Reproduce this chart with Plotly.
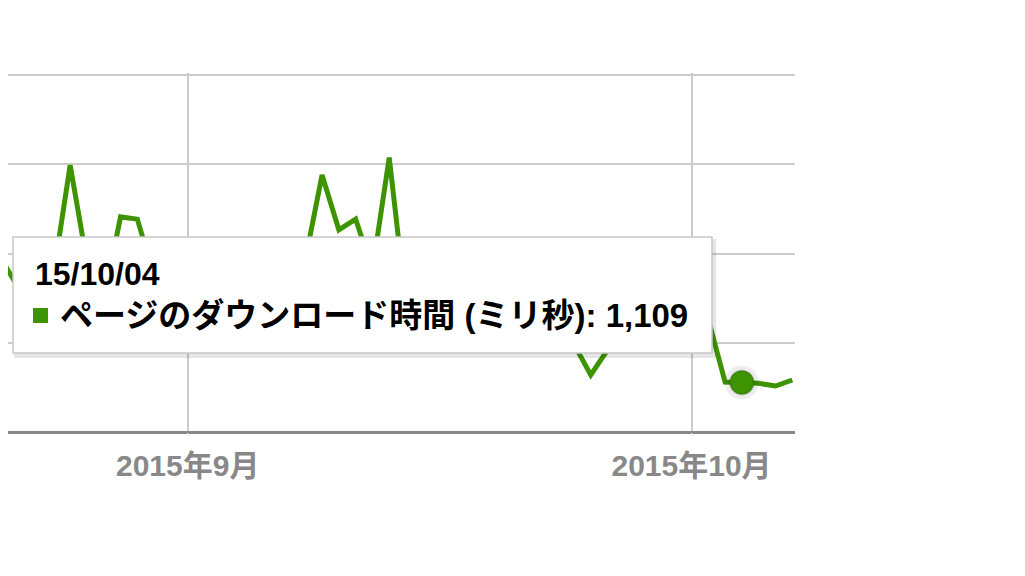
import plotly.graph_objects as go
import pandas as pd

start_date = "2015-08-20"
end_date = "2015-10-07"
dates = [d.strftime("%Y-%m-%d") for d in pd.date_range(start_date, end_date, freq="D")]

# ページのダウンロード時間 (ミリ秒), daily
download_ms = [
    3180, 3810, 3180, 2960, 3500, 5980, 3810, 2960, 4820, 4770, 3500, 2960,  # Aug 20 - Aug 31
    3180, 2730, 3070, 2960, 2510, 2850, 3180, 3850, 5760, 4530, 4770, 3630,  # Sep 1 - Sep 12
    6150, 2850, 3180, 2960, 2620, 3070, 2730, 2510, 2960, 2850, 2400, 1970,  # Sep 13 - Sep 24
    1280, 1840, 2510, 2730, 2960, 2620,                                      # Sep 25 - Sep 30
    2730, 2530, 1120, 1109, 1090, 1030, 1165,                                # Oct 1 - Oct 7
]

tick_vals = ["2015-09-01", "2015-10-01"]
tick_text = ["2015年9月", "2015年10月"]

hover_date = "2015-10-04"
hover_value = 1109
hover_label = "15/10/04"
series_name = "ページのダウンロード時間 (ミリ秒)"

y_ticks = [0, 2000, 4000, 6000, 8000]

GREEN = "#3d9400"
FONT = "Arial, 'Liberation Sans', 'Noto Sans CJK JP', sans-serif"

# page has an 8px body margin; figure is placed at (8, 8)
OFF = 8
W, H = 1009, 560
L, T = 0, 65
PW, PH = 787, 359
R, B = W - L - PW, H - T - PH
Y_MAX = 8000 * PH / 357.0


def px(xp):
    return (xp - OFF - L) / PW


def py(yp):
    return (T + PH - (yp - OFF)) / PH


fig = go.Figure()
fig.add_trace(go.Scatter(
    x=dates, y=download_ms, mode="lines",
    line=dict(color=GREEN, width=5),
    hoverinfo="skip", showlegend=False,
))
# highlighted point with halo
fig.add_trace(go.Scatter(
    x=[hover_date], y=[hover_value], mode="markers",
    marker=dict(size=34, color="rgba(0,0,0,0.07)", line=dict(width=0)),
    hoverinfo="skip", showlegend=False,
))
fig.add_trace(go.Scatter(
    x=[hover_date], y=[hover_value], mode="markers",
    marker=dict(size=24, color=GREEN, line=dict(width=2, color="rgba(0,0,0,0.15)")),
    hoverinfo="skip", showlegend=False,
))

# tooltip box (shadow + box + swatch)
fig.add_shape(type="rect", xref="paper", yref="paper", layer="above",
              x0=px(14), x1=px(716), y0=py(358), y1=py(239),
              fillcolor="rgba(0,0,0,0.10)", line=dict(width=0))
fig.add_shape(type="rect", xref="paper", yref="paper", layer="above",
              x0=px(13), x1=px(712), y0=py(353), y1=py(237),
              fillcolor="white", line=dict(color="#c8c8c8", width=1.5))
fig.add_shape(type="rect", xref="paper", yref="paper", layer="above",
              x0=px(33), x1=px(48), y0=py(323), y1=py(308),
              fillcolor=GREEN, line=dict(width=0))

fig.add_annotation(xref="paper", yref="paper", x=px(33), y=py(273.5),
                   xanchor="left", yanchor="middle", showarrow=False,
                   text="<b>" + hover_label + "</b>",
                   font=dict(family=FONT, size=32, color="#000"))
fig.add_annotation(xref="paper", yref="paper", x=px(58), y=py(315),
                   xanchor="left", yanchor="middle", showarrow=False,
                   text="<b>" + series_name + ": " + f"{hover_value:,}" + "</b>",
                   font=dict(family=FONT, size=33, color="#000"))

fig.update_layout(
    width=W, height=H,
    margin=dict(l=L, r=R, t=T, b=B, pad=0),
    paper_bgcolor="white", plot_bgcolor="white",
    font=dict(family=FONT),
    xaxis=dict(
        type="date",
        range=["2015-08-21 07:10", "2015-10-07 03:55"],
        tickvals=tick_vals,
        ticktext=["<b>" + t + "</b>" for t in tick_text],
        tickfont=dict(size=30, color="#888888", family=FONT),
        showgrid=True, gridcolor="#cccccc", gridwidth=2,
        ticks="outside", ticklen=7, tickcolor="white",
        showline=False, zeroline=False, fixedrange=True,
    ),
    yaxis=dict(
        range=[0, Y_MAX],
        tickvals=y_ticks,
        showticklabels=False,
        showgrid=True, gridcolor="#cccccc", gridwidth=2,
        zeroline=True, zerolinecolor="#888888", zerolinewidth=3,
        fixedrange=True,
    ),
)

fig.write_html("out.html")
